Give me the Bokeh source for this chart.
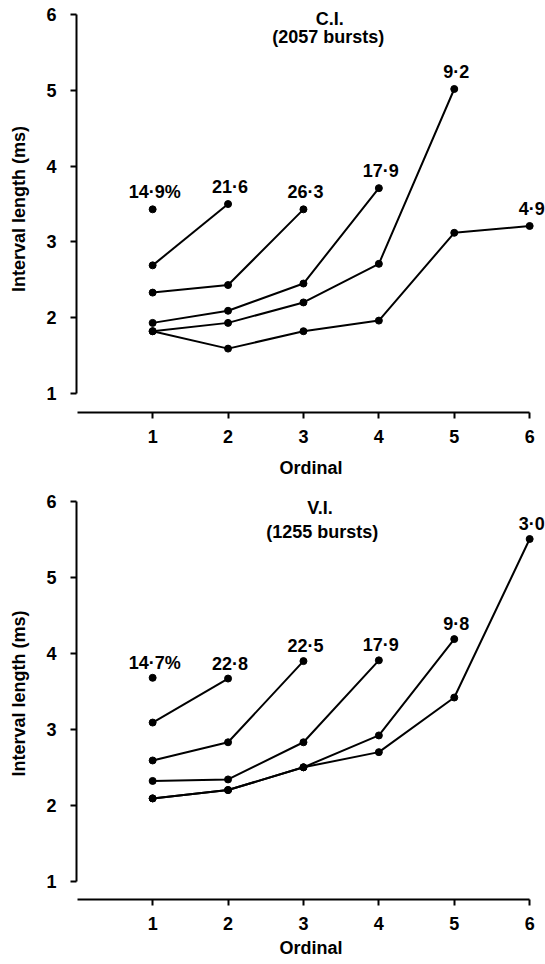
from bokeh.plotting import figure
from bokeh.layouts import column
from bokeh.models import Range1d, FixedTicker, Label
from bokeh.core.properties import value
from bokeh.embed import file_html
from bokeh.resources import INLINE

# ---------------- data ----------------
ORDINALS = [1, 2, 3, 4, 5, 6]
Y_TICKS = [1, 2, 3, 4, 5, 6]

# C.I. panel: mean interval length (ms) per ordinal, bursts of 2..7 spikes
ci_1 = [3.43]
ci_2 = [2.69, 3.50]
ci_3 = [2.33, 2.43, 3.43]
ci_4 = [1.93, 2.09, 2.45, 3.71]
ci_5 = [1.82, 1.93, 2.20, 2.71, 5.02]
ci_6 = [1.82, 1.59, 1.82, 1.96, 3.12, 3.21]
ci_pct = ["14·9%", "21·6", "26·3", "17·9", "9·2", "4·9"]
ci_title = "C.I."
ci_bursts = "(2057 bursts)"

# V.I. panel
vi_1 = [3.68]
vi_2 = [3.09, 3.67]
vi_3 = [2.59, 2.83, 3.90]
vi_4 = [2.32, 2.34, 2.83, 3.91]
vi_5 = [2.09, 2.20, 2.50, 2.92, 4.19]
vi_6 = [2.09, 2.20, 2.50, 2.70, 3.42, 5.51]
vi_pct = ["14·7%", "22·8", "22·5", "17·9", "9·8", "3·0"]
vi_title = "V.I."
vi_bursts = "(1255 bursts)"

FONT = "Liberation Sans"


def make_panel(series, pct, title, bursts, y_rng, frame_h, border_bottom,
               title_xy, bursts_xy, xlabel_standoff, label_dy):
    p = figure(frame_width=469, frame_height=frame_h,
               x_range=Range1d(-0.01, 6.21), y_range=Range1d(*y_rng),
               output_backend="svg", toolbar_location=None,
               min_border_left=76, min_border_right=0,
               min_border_top=5, min_border_bottom=border_bottom,
               background_fill_color="white", border_fill_color="white")
    p.outline_line_color = None
    p.xgrid.visible = False
    p.ygrid.visible = False

    for s in series:
        xs = ORDINALS[:len(s)]
        if len(s) > 1:
            p.line(xs, s, line_width=2, line_color="black")
        p.scatter(xs, s, size=7, fill_color="black", line_color="black")

    lx = [len(s) for s in series]
    ly = [s[-1] for s in series]
    p.text(x=lx, y=ly, text=pct, text_font=value(FONT), text_font_style="bold",
           text_font_size="18px", text_align="center", text_baseline="middle",
           x_offset=2, y_offset=label_dy, text_color="black")

    for txt, (tx, ty) in ((title, title_xy), (bursts, bursts_xy)):
        p.add_layout(Label(x=tx, y=ty, text=txt, text_align="center",
                           text_baseline="middle", text_font=FONT,
                           text_font_style="bold", text_font_size="18px",
                           text_color="black"))

    for ax in (p.xaxis, p.yaxis):
        ax.axis_line_width = 2
        ax.axis_line_color = "black"
        ax.major_tick_line_width = 2
        ax.major_tick_line_color = "black"
        ax.major_tick_in = 0
        ax.major_tick_out = 6
        ax.minor_tick_line_color = None
        ax.major_label_text_font = FONT
        ax.major_label_text_font_style = "bold"
        ax.major_label_text_font_size = "18px"
        ax.major_label_text_color = "black"
        ax.axis_label_text_font = FONT
        ax.axis_label_text_font_style = "bold"
        ax.axis_label_text_font_size = "18px"
        ax.axis_label_text_color = "black"

    p.xaxis.ticker = FixedTicker(ticks=ORDINALS)
    p.xaxis.bounds = (0, 6)
    p.xaxis.axis_label = "Ordinal"
    p.xaxis.major_label_standoff = 11
    p.xaxis.axis_label_standoff = xlabel_standoff

    p.yaxis.ticker = FixedTicker(ticks=Y_TICKS)
    p.yaxis.bounds = (1, 6)
    p.yaxis.axis_label = "Interval length (ms)"
    p.yaxis.major_label_standoff = 14
    p.yaxis.axis_label_standoff = 14
    return p


p1 = make_panel([ci_1, ci_2, ci_3, ci_4, ci_5, ci_6], ci_pct, ci_title, ci_bursts,
                (0.746, 6.123), 407, 70, (3.35, 5.947), (3.33, 5.703), 12, -17)
p2 = make_panel([vi_1, vi_2, vi_3, vi_4, vi_5, vi_6], vi_pct, vi_title, vi_bursts,
                (0.757, 6.189), 412, 65, (3.22, 5.914), (3.25, 5.604), 5, -15)

layout = column(p1, p2, spacing=0)
open("out.html", "w").write(file_html(layout, INLINE))
